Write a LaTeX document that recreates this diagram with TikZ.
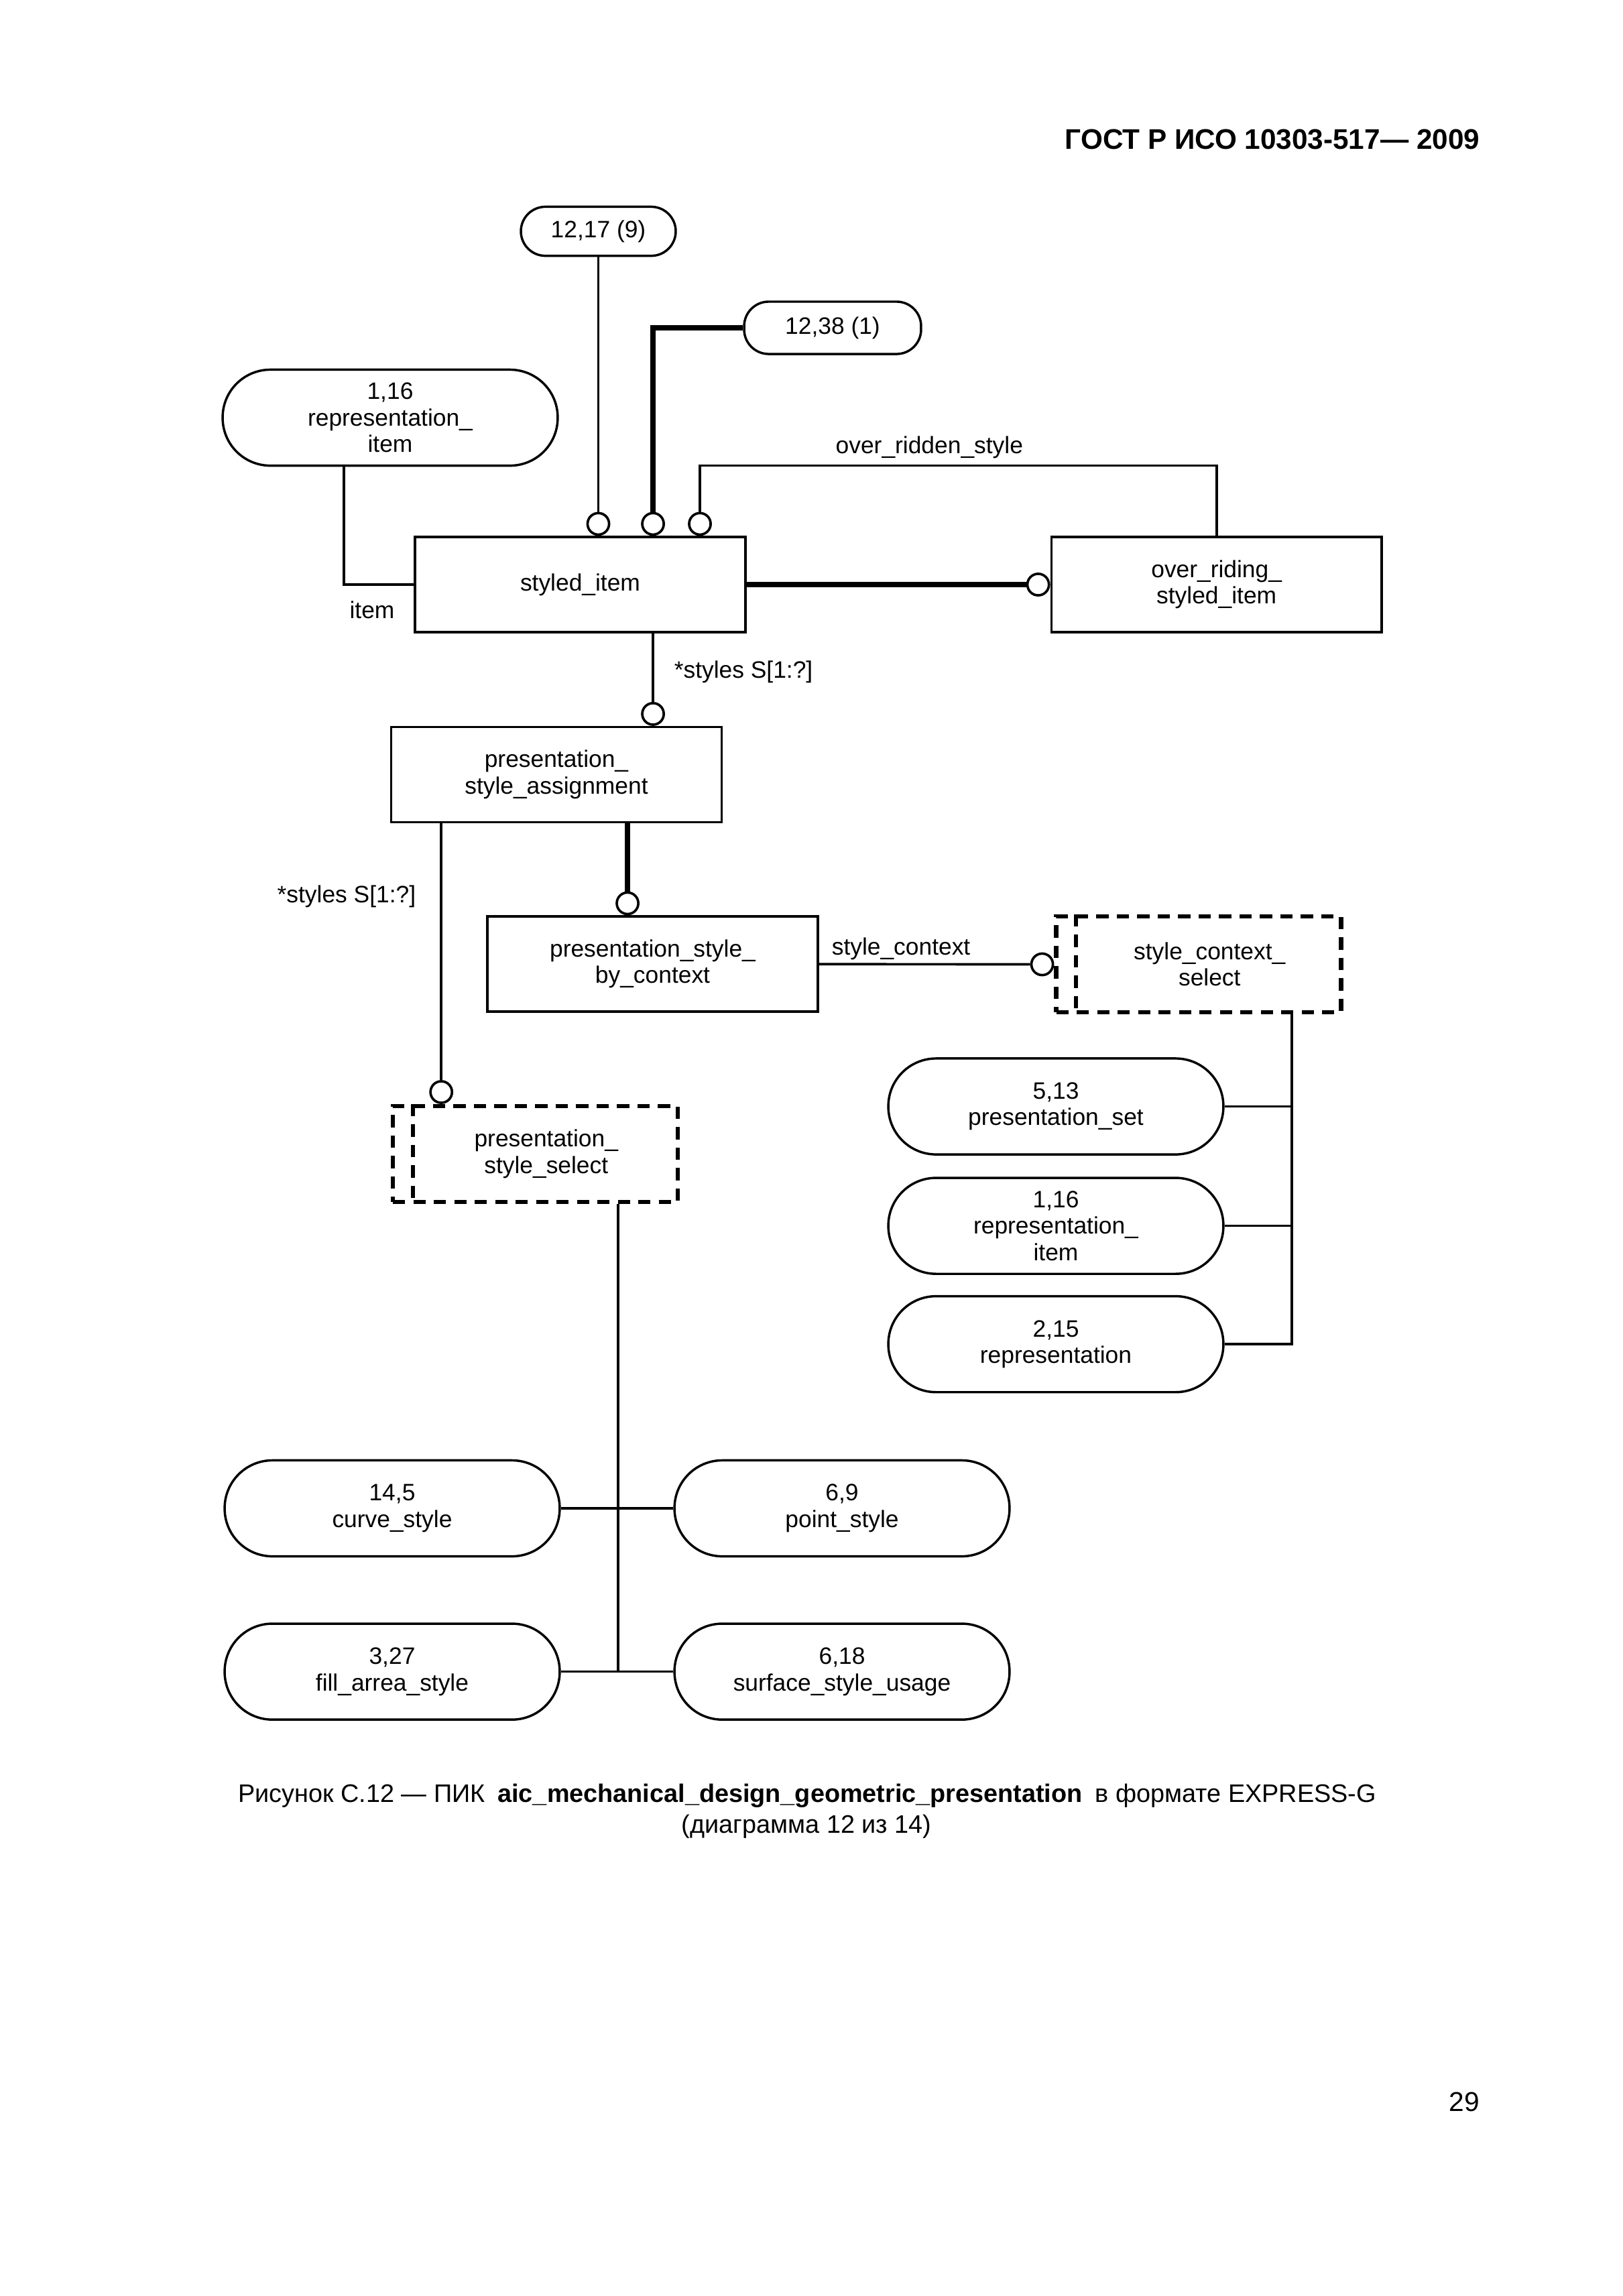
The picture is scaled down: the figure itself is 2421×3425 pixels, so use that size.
\documentclass[tikz,border=0pt]{standalone}
\usepackage{fontspec}
\setmainfont{Liberation Sans}
\usetikzlibrary{positioning}
\tikzset{
  every node/.style={
    font=\fontsize{8.7}{9.7}\selectfont,
    align=center
  },
  entity/.style={draw, line width=0.85pt, minimum width=121.2pt, minimum height=34.9pt, inner sep=0pt},
  pill/.style={draw, line width=0.85pt, rounded corners=17.5pt, minimum width=122.9pt, minimum height=35.2pt, inner sep=0pt},
  smallpill/.style={draw, line width=0.85pt, rounded corners=9pt, inner sep=0pt},
  selectbox/.style={draw, line width=1.5pt, dash pattern=on 4.5pt off 3pt, minimum width=104.5pt, minimum height=35.2pt, inner sep=0pt},
  selectline/.style={line width=1.5pt, dash pattern=on 4.5pt off 3pt},
  ring/.style={circle, draw, fill=white, line width=0.9pt, minimum size=7.9pt, inner sep=0pt},
  rel/.style={line width=0.9pt},
  heavy/.style={line width=2pt}
}

\begin{document}
\begin{tikzpicture}[x=0.2459pt, y=-0.2459pt]
      \useasboundingbox (0,0) rectangle (2421,3425);

      \node [anchor=east, inner sep=0pt, font=\fontsize{10.4}{12}\selectfont\bfseries] (Head) at (2208,208) {ГОСТ Р ИСО 10303-517— 2009};

      \node [entity] (Styled) at (865.5,872) {styled\_item};
      \node [entity, on grid, right=233.4pt of Styled] (Overriding) {over\_riding\_\\styled\_item};
      \node [pill] (RepTop) at (582,623) {1,16\\representation\_\\item};
      \node [smallpill, minimum width=56.8pt, minimum height=18pt] (Ref1217) at (892.5,345) {12,17 (9)};
      \node [smallpill, minimum width=64.9pt, minimum height=19.2pt] (Ref1238) at (1242,489) {12,38 (1)};

      \node [ring, anchor=south] (R1) at (Styled.north -| Ref1217) {};
      \node [ring, anchor=south] (R2) at ([xshift=26.7pt]Styled.north) {};
      \node [ring, anchor=south] (R3) at ([xshift=43.9pt]Styled.north) {};
      \node [ring, anchor=east] (R4) at (Overriding.west) {};
      \coordinate (ORbend) at ([yshift=25.8pt]Overriding.north);
      \draw [rel] (Ref1217) to (R1);
      \draw [heavy] (R2) |- (Ref1238);
      \draw [rel] (R3) |- (ORbend) to (Overriding.north);
      \node [above=-1pt of ORbend -| R3, anchor=south west, xshift=46.3pt] (ORlabel) {over\_ridden\_style};
      \draw [rel] ([xshift=-17pt]RepTop.south) |- (Styled.west);
      \node (ItemLabel) at (555,910) {item};
      \draw [heavy] (Styled) to (R4);

      \node [entity] (Assign) at (830,1155.5) {presentation\_\\style\_assignment};
      \node [ring, anchor=south] (R5) at (Assign.north -| R2) {};
      \draw [rel] (Styled.south -| R2) to (R5);
      \node [anchor=west, inner sep=0pt] (Styles1) at (1005,1002) {*styles S[1:?]};

      \node [entity] (ByContext) at (973.5,1438) {presentation\_style\_\\by\_context};
      \node [ring, anchor=south] (R6) at ([xshift=-9.2pt]ByContext.north) {};
      \draw [heavy] (R6) to (R6 |- Assign.south);

      \node [selectbox] (CtxSelect) at (1788,1438.5) {};
      \node (CtxText) at ([xshift=4pt]CtxSelect.center) {style\_context\_\\select};
      \draw [selectline] ([xshift=8.1pt]CtxSelect.north west) to ([xshift=8.1pt]CtxSelect.south west);
      \node [ring, anchor=east] (R8) at (CtxSelect.west) {};
      \draw [rel] (ByContext) to (R8);
      \node [anchor=west, inner sep=0pt] (CtxLabel) at (1240,1415) {style\_context};

      \node [selectbox] (StyleSelect) at (798.5,1721.5) {};
      \node (StyleText) at ([xshift=4pt]StyleSelect.center) {presentation\_\\style\_select};
      \draw [selectline] ([xshift=8.1pt]StyleSelect.north west) to ([xshift=8.1pt]StyleSelect.south west);
      \node [ring, anchor=south] (R7) at ([xshift=-34.5pt]StyleSelect.north) {};
      \draw [rel] (R7) to (R7 |- Assign.south);
      \node [anchor=east, inner sep=0pt] (Styles2) at (621,1337) {*styles S[1:?]};

      \node [pill] (Ref513) at (1575,1650.5) {5,13\\presentation\_set};
      \node [pill, on grid, below=43.8pt of Ref513] (Ref116) {1,16\\representation\_\\item};
      \node [pill, on grid, below=43.4pt of Ref116] (Ref215) {2,15\\representation};
      \coordinate (Bus1) at ([xshift=34.2pt]CtxSelect.south);
      \draw [rel] (Bus1) |- (Ref215);
      \draw [rel] (Ref513) -| (Bus1);
      \draw [rel] (Ref116) -| (Bus1);

      \node [pill] (CurveSt) at (585,2250) {14,5\\curve\_style};
      \node [pill, on grid, right=165pt of CurveSt] (PointSt) {6,9\\point\_style};
      \node [pill, on grid, below=59.9pt of CurveSt] (FillSt) {3,27\\fill\_arrea\_style};
      \node [pill, on grid, right=165pt of FillSt] (SurfSt) {6,18\\surface\_style\_usage};
      \coordinate (Bus2) at ([xshift=30.4pt]StyleSelect.south);
      \draw [rel] (Bus2) |- (FillSt);
      \draw [rel] (CurveSt) to (PointSt);
      \draw [rel] (FillSt) to (SurfSt);

      \node [font=\fontsize{9.3}{11}\selectfont] (Cap1) at (1204,2679) {Рисунок С.12 — ПИК\enspace\textbf{aic\_mechanical\_design\_geometric\_presentation}\enspace в формате EXPRESS-G};
      \node [font=\fontsize{9.3}{11}\selectfont] (Cap2) at (1203,2725) {(диаграмма 12 из 14)};
      \node [anchor=east, inner sep=0pt, font=\fontsize{10}{12}\selectfont] (Page) at (2208,3135) {29};
\end{tikzpicture}
\end{document}
